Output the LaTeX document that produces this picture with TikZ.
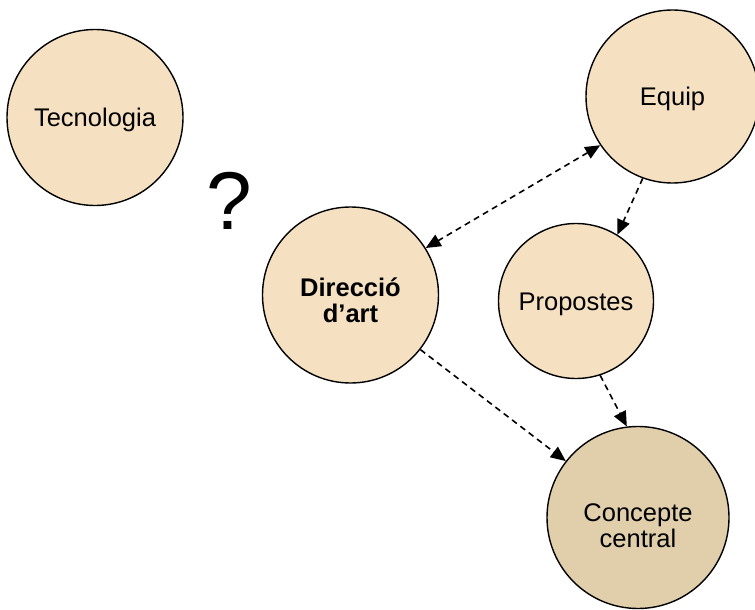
\documentclass[tikz,border=0pt]{standalone}
\usepackage{fontspec}
\setmainfont{Liberation Sans}
\usetikzlibrary{arrows.meta}

\definecolor{tanfill}{HTML}{F5E1C2}
\definecolor{tandark}{HTML}{E1CEAB}

\begin{document}
\begin{tikzpicture}[x=1pt,y=-1pt,
    bubble/.style={circle,draw=black,line width=1.4pt,fill=tanfill,inner sep=0pt,
      align=center,font=\fontsize{25.5}{26}\selectfont,
      text height=18.3pt,text depth=0pt},
    link/.style={dashed,dash pattern=on 6pt off 4.5pt,line width=1.6pt,
      -{Triangle[length=15pt,width=13pt]}}]
      \useasboundingbox (0,0) rectangle (755,610);

      \node[bubble,minimum size=176pt] (tecno) at (95,117.5) {Tecnologia};
      \node[bubble,minimum size=173pt] (equip) at (672.5,96.5) {Equip};
      \node[bubble,minimum size=176pt,font=\fontsize{25.5}{26}\selectfont\bfseries,
          text height=55.3pt]
          (direccio) at (350.5,295) {Direcció\\d’art};
      \node[bubble,minimum size=155pt] (propostes) at (576,301) {Propostes};
      \node[bubble,minimum size=182pt,fill=tandark,text height=60.3pt]
          (concepte) at (638,517.5) {Concepte\\central};
      \node[font=\fontsize{82}{82}\selectfont] (dubte) at (229,201) {?};

      \draw[link,{Triangle[length=15pt,width=13pt]}-{Triangle[length=15pt,width=13pt]}]
          (equip.-146) -- (direccio.32);
      \draw[link] (equip.-110) -- (propostes.58);
      \draw[link] (propostes.-72) -- (concepte.97);
      \draw[link] (direccio.-38) -- (concepte.142);
    \end{tikzpicture}
\end{document}
